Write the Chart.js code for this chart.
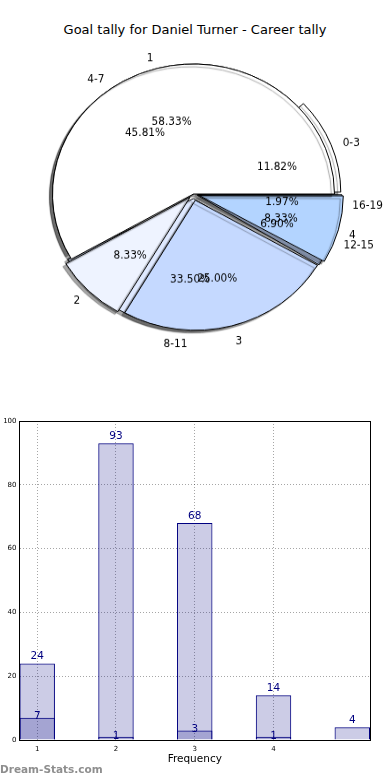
<!DOCTYPE html>
<html>
<head>
<meta charset="utf-8">
<script src="https://cdn.jsdelivr.net/npm/chart.js@4.4.0/dist/chart.umd.min.js"></script>
<style>
  html, body { margin: 0; padding: 0; background: #fff; }
  body { width: 390px; height: 780px; position: relative; overflow: hidden; font-family: "DejaVu Sans", sans-serif; }
  #title { position: absolute; left: 0; top: 22px; width: 390px; text-align: center; font-size: 13px; color: #000; }
  #pie-wrap { position: absolute; left: 0; top: 14px; width: 390px; height: 360px; transform: scaleY(0.922); transform-origin: 50% 180px; }
  #pie-wrap canvas { position: absolute; left: 0; top: 0; }
  #bar-wrap { position: absolute; left: 0; top: 410px; width: 390px; height: 370px; }
  #watermark { position: absolute; left: 0; top: 763px; font-size: 10.5px; font-weight: bold; color: #8e8e8e; }
</style>
</head>
<body>
<div id="title">Goal tally for Daniel Turner - Career tally</div>
<div id="pie-wrap">
  <canvas id="pie-ranges" width="390" height="360"></canvas>
  <canvas id="pie-goals" width="390" height="360"></canvas>
</div>
<div id="bar-wrap">
  <canvas id="bar-frequency" width="390" height="370"></canvas>
</div>
<div id="watermark">Dream-Stats.com</div>
<script>
// career tally, grouped by ranges
const rangeLabels = ["0-3", "4-7", "8-11", "12-15", "16-19"];
const rangeCounts = [24, 93, 68, 14, 4];
// goals per game
const goalLabels = ["1", "2", "3", "4"];
const goalCounts = [7, 1, 3, 1];
// bar positions and ticks
const rangeX = [1, 2, 3, 4, 5];
const goalX = [1, 2, 3, 4];
const xTicks = [1, 2, 3, 4];
const yTicks = [0, 20, 40, 60, 80, 100];

Chart.defaults.font.family = '"DejaVu Sans", sans-serif';

const SY = 0.922;      // pie is drawn squashed vertically
const R = 141;
const OFFSET_DIV = 4;  // chart.js v4 translates arcs by offset / 4
const TEXT_DY = 3;
const rangeColors = ["#ffffff", "#ffffff", "#dfe9ff", "#c5d9ff", "#b3d4ff"];
const rangeExplode = [5, 0, 5, 4, 4];
const goalColors = ["#ffffff", "#eef3ff", "#c5d9ff", "#b3d4ff"];
const goalExplode = [0, 5, 7, 6];

const pieShadow = {
    id: 'pieShadow',
    beforeDatasetsDraw: function (chart) {
        const c = chart.ctx;
        c.save();
        c.shadowColor = 'rgba(0,0,0,0.35)';
        c.shadowOffsetX = -3;
        c.shadowOffsetY = 3;
        c.shadowBlur = 1;
    },
    afterDatasetsDraw: function (chart) {
        chart.ctx.restore();
    }
};

function pieConfig(labels, values, colors, explode, plugins) {
    return {
        type: 'pie',
        data: {
            labels: labels.slice().reverse(),
            datasets: [{
                data: values.slice().reverse(),
                backgroundColor: colors.slice().reverse(),
                borderColor: '#000',
                borderWidth: 1,
                offset: explode.slice().reverse().map(e => e * OFFSET_DIV),
                radius: R
            }]
        },
        options: {
            responsive: false,
            animation: false,
            events: [],
            rotation: 90,
            layout: { padding: { left: 0, right: 3, top: 0, bottom: 0 } },
            plugins: { legend: { display: false }, tooltip: { enabled: false } }
        },
        plugins: plugins
    };
}

function putText(ctx, txt, x, y, align) {
    ctx.save();
    ctx.translate(x, y + TEXT_DY / SY);
    ctx.scale(1, 1 / SY);
    ctx.textAlign = align;
    ctx.textBaseline = 'middle';
    ctx.fillText(txt, 0, 0);
    ctx.restore();
}

function drawPieTexts(ctx, chart) {
    const ds = chart.data.datasets[0];
    const total = ds.data.reduce((a, b) => a + b, 0);
    chart.getDatasetMeta(0).data.forEach(function (arc, i) {
        const mid = (arc.startAngle + arc.endAngle) / 2;
        const off = ds.offset[i] / OFFSET_DIV;
        const cx = arc.x + Math.cos(mid) * off;
        const cy = arc.y + Math.sin(mid) * off;
        const lx = cx + Math.cos(mid) * R * 1.1;
        const ly = cy + Math.sin(mid) * R * 1.1;
        putText(ctx, chart.data.labels[i], lx, ly, Math.cos(mid) > 0 ? 'left' : 'right');
        const px = cx + Math.cos(mid) * R * 0.6;
        const py = cy + Math.sin(mid) * R * 0.6;
        putText(ctx, (ds.data[i] / total * 100).toFixed(2) + '%', px, py, 'center');
    });
}

const rangePie = new Chart(document.getElementById('pie-ranges'),
    pieConfig(rangeLabels, rangeCounts, rangeColors, rangeExplode, [pieShadow]));

const pieTexts = {
    id: 'pieTexts',
    afterDraw: function (chart) {
        const ctx = chart.ctx;
        ctx.save();
        ctx.fillStyle = '#000';
        ctx.font = '10.5px "DejaVu Sans"';
        drawPieTexts(ctx, chart);
        drawPieTexts(ctx, rangePie);
        ctx.restore();
    }
};

new Chart(document.getElementById('pie-goals'),
    pieConfig(goalLabels, goalCounts, goalColors, goalExplode, [pieShadow, pieTexts]));

// bar chart
const frame = {
    id: 'frame',
    afterDraw: function (chart) {
        const a = chart.chartArea;
        const ctx = chart.ctx;
        ctx.save();
        ctx.strokeStyle = '#000';
        ctx.lineWidth = 1;
        const l = Math.round(a.left - 0.5) + 0.5, t = Math.round(a.top - 0.5) + 0.5;
        const r = Math.round(a.right - 0.5) + 0.5, b = Math.round(a.bottom - 0.5) + 0.5;
        ctx.strokeRect(l, t, r - l, b - t);
        ctx.restore();
    }
};

const barValues = {
    id: 'barValues',
    afterDatasetsDraw: function (chart) {
        const ctx = chart.ctx;
        ctx.save();
        ctx.fillStyle = '#000080';
        ctx.font = '10.5px "DejaVu Sans"';
        ctx.textAlign = 'center';
        chart.data.datasets.forEach(function (ds, d) {
            chart.getDatasetMeta(d).data.forEach(function (bar, i) {
                const v = ds.data[i].y;
                if (d === 0) {
                    ctx.textBaseline = 'bottom';
                    ctx.fillText(v, bar.x, bar.y - 2);
                } else {
                    ctx.textBaseline = 'middle';
                    ctx.fillText(v, bar.x, bar.y - 1);
                }
            });
        });
        ctx.restore();
    }
};

const barStyle = {
    backgroundColor: 'rgba(0,0,128,0.2)',
    borderColor: '#000080',
    borderWidth: 1,
    grouped: false,
    barPercentage: 0.45,
    categoryPercentage: 1
};

new Chart(document.getElementById('bar-frequency'), {
    type: 'bar',
    data: {
        datasets: [
            Object.assign({ data: rangeX.map((x, i) => ({ x: x, y: rangeCounts[i] })) }, barStyle),
            Object.assign({ data: goalX.map((x, i) => ({ x: x, y: goalCounts[i] })) }, barStyle)
        ]
    },
    options: {
        responsive: false,
        animation: false,
        events: [],
        layout: { padding: { top: 11, right: 20, left: 0, bottom: 0 } },
        plugins: { legend: { display: false }, tooltip: { enabled: false } },
        scales: {
            x: {
                type: 'linear',
                min: 0.775,
                max: 5.225,
                offset: false,
                afterBuildTicks: function (s) { s.ticks = xTicks.map(v => ({ value: v })); },
                afterFit: function (s) { s.height = 40; },
                ticks: { font: { size: 7 }, color: '#000', padding: 5, maxRotation: 0 },
                grid: { offset: false, color: 'rgba(0,0,0,0.35)', drawTicks: false },
                border: { display: false, dash: [1, 2] },
                title: { display: true, text: 'Frequency', color: '#000', font: { size: 10.5 }, padding: { top: 0, bottom: 14 } }
            },
            y: {
                min: 0,
                max: 100,
                afterBuildTicks: function (s) { s.ticks = yTicks.map(v => ({ value: v })); },
                afterFit: function (s) { s.width = 19.5; },
                ticks: { font: { size: 7 }, color: '#000', padding: 3 },
                grid: { color: 'rgba(0,0,0,0.35)', drawTicks: false },
                border: { display: false, dash: [1, 2] }
            }
        }
    },
    plugins: [frame, barValues]
});
</script>
</body>
</html>
